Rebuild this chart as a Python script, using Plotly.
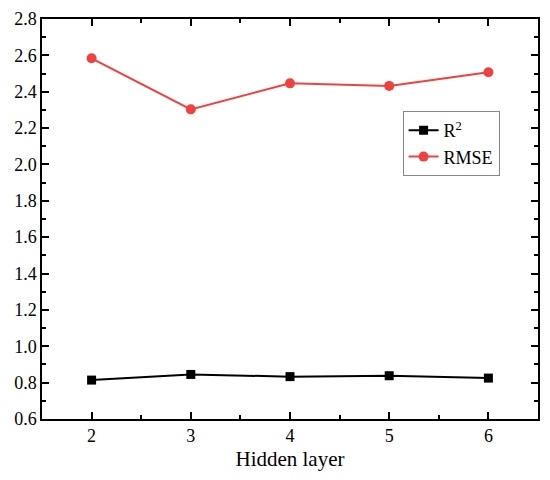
import plotly.graph_objects as go

hidden_layer = [2, 3, 4, 5, 6]
r2 = [0.814, 0.845, 0.833, 0.838, 0.825]
rmse = [2.584, 2.303, 2.446, 2.432, 2.507]

font = 'Liberation Serif'

fig = go.Figure()
fig.add_trace(go.Scatter(x=hidden_layer, y=r2, mode='lines+markers', name='R<sup>2</sup>',
                         line=dict(color='black', width=2),
                         marker=dict(symbol='square', size=9, color='black')))
fig.add_trace(go.Scatter(x=hidden_layer, y=rmse, mode='lines+markers', name='RMSE',
                         line=dict(color='#f04040', width=2),
                         marker=dict(symbol='circle', size=10, color='#f04040')))

axis_style = dict(showline=True, linecolor='black', linewidth=1.5, mirror='ticks',
                  ticks='inside', ticklen=7, tickwidth=1.5, tickcolor='black',
                  showgrid=False, zeroline=False, automargin=False,
                  tickfont=dict(family=font, size=18, color='black'))

fig.update_xaxes(range=[1.5, 6.5], dtick=1, tick0=2,
                 minor=dict(ticks='inside', dtick=0.5, tick0=2, ticklen=4, tickcolor='black', tickwidth=1.5),
                 title=dict(text='Hidden layer', font=dict(family=font, size=21, color='black'), standoff=6),
                 **axis_style)
fig.update_yaxes(range=[0.6, 2.8], dtick=0.2, tick0=0.6, tickformat='.1f',
                 minor=dict(ticks='inside', dtick=0.1, tick0=0.6, ticklen=4, tickcolor='black', tickwidth=1.5),
                 **axis_style)

# the page has an 8px body margin, so the figure is 8px smaller than the window
fig.update_layout(
    width=542, height=472,
    margin=dict(l=34, r=12, t=11, b=61),
    plot_bgcolor='white', paper_bgcolor='white',
    font=dict(family=font, size=18, color='black'),
    legend=dict(x=0.727, y=0.77, xanchor='left', yanchor='top',
                bordercolor='#888888', borderwidth=1, bgcolor='white',
                font=dict(family=font, size=18, color='black'),
                itemwidth=30, tracegroupgap=0),
    showlegend=True,
)

fig.write_html("out.html")
